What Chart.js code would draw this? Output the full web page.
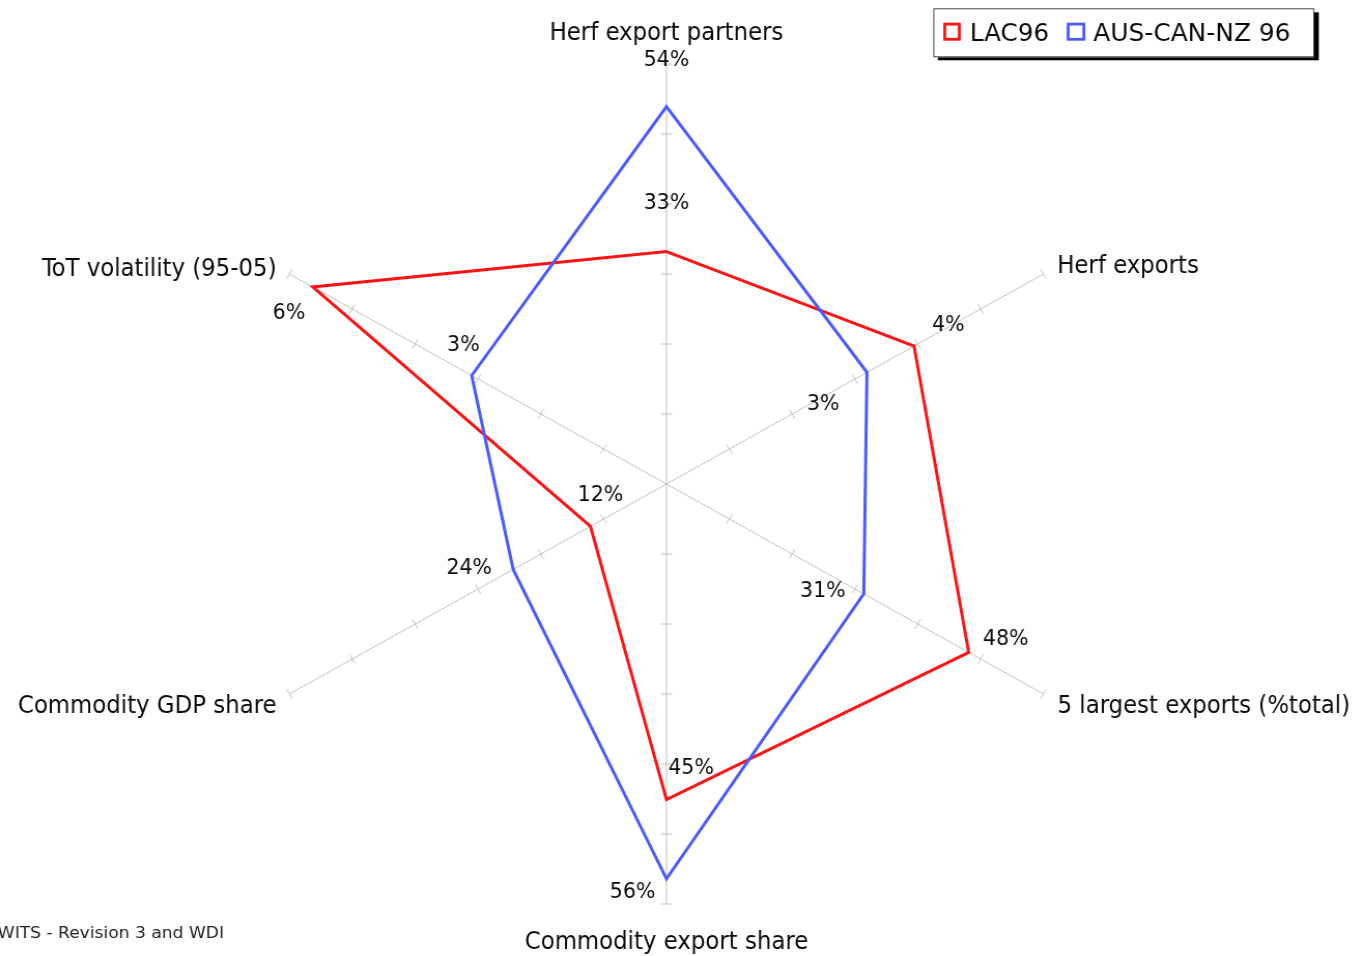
<!DOCTYPE html>
<html>
<head>
<meta charset="utf-8">
<script src="https://cdn.jsdelivr.net/npm/chart.js@4.4.1/dist/chart.umd.min.js"></script>
<style>
html,body{margin:0;padding:0;background:#fff;overflow:hidden;width:1363px;height:956px;}
#wrap{position:absolute;left:0;top:0;width:1315px;height:956px;transform:scaleX(1.0365);transform-origin:0 0;}
canvas{display:block;}
</style>
</head>
<body>
<div id="wrap"><canvas id="c" width="1315" height="956"></canvas></div>
<script>
// ---- data ----
const categories = ['Herf export partners', 'Herf exports', '5 largest exports (%total)', 'Commodity export share', 'Commodity GDP share', 'ToT volatility (95-05)'];
const seriesNames = ['LAC96', 'AUS-CAN-NZ 96'];
const lac96 = [33.2, 3.94, 48.1, 45.1, 12.1, 5.63];
const ausCanNz96 = [53.9, 3.19, 31.4, 56.4, 24.4, 3.1];
const axisMax = [60, 6, 60, 60, 60, 6];
const tickDivisions = 6;
const sourceNote = 'WITS - Revision 3 and WDI';

// ---- styling / layout ----
const SX = 1.0365;
const FONT = '"DejaVu Sans Condensed", "DejaVu Sans", Verdana, sans-serif';
const FONT_WIDE = '"DejaVu Sans", Verdana, sans-serif';
const colors = ['#ff1414', '#4b5bff'];
const axisLabelLayout = [
  {dx: 0, dy: -24.5, align: 'center', w: 236},
  {dx: 13.7, dy: -1.3, align: 'left', w: 143},
  {dx: 14, dy: 18.5, align: 'left', w: 299},
  {dx: 0, dy: 44.5, align: 'center', w: 287},
  {dx: -13, dy: 18.5, align: 'right', w: 262},
  {dx: -13, dy: 2, align: 'right', w: 242}
];
const valueLabelOffsets = [
  [[0, -51], [34.2, -22.7], [37, -15], [24.6, -34.2], [10, -33], [-23.8, 24.4]],
  [[0, -49], [-43.8, 29.3], [-41, -5], [-33.9, 11], [-44, -3], [-8.3, -32.7]]
];

const norm = arr => arr.map((v, i) => v / axisMax[i]);
const rawSeries = [lac96, ausCanNz96];

const decorPlugin = {
  id: 'decor',
  beforeDatasetsDraw(chart) {
    const r = chart.scales.r;
    const ctx = chart.ctx;
    ctx.save();
    ctx.strokeStyle = '#c2c2c2';
    ctx.lineWidth = 1;
    for (let i = 0; i < categories.length; i++) {
      const a = r.getIndexAngle(i) - Math.PI / 2;
      const px = Math.cos(a + Math.PI / 2), py = Math.sin(a + Math.PI / 2);
      for (let k = 1; k <= tickDivisions; k++) {
        const p = r.getPointPosition(i, r.getDistanceFromCenterForValue(k / tickDivisions));
        ctx.beginPath();
        ctx.moveTo(p.x - px * 5.3, p.y - py * 5.3);
        ctx.lineTo(p.x + px * 5.3, p.y + py * 5.3);
        ctx.stroke();
      }
    }
    ctx.restore();
  },
  afterDraw(chart) {
    const r = chart.scales.r;
    const ctx = chart.ctx;
    ctx.save();
    ctx.textBaseline = 'alphabetic';
    // axis labels
    ctx.fillStyle = '#0a0a0a';
    ctx.font = '24.5px ' + FONT;
    categories.forEach((c, i) => {
      const p = r.getPointPosition(i, r.getDistanceFromCenterForValue(1));
      const L = axisLabelLayout[i];
      ctx.textAlign = L.align;
      ctx.fillText(c, p.x + L.dx / SX, p.y + L.dy, L.w / SX);
    });
    // value labels
    ctx.font = '22px ' + FONT;
    ctx.textAlign = 'center';
    rawSeries.forEach((ser, d) => {
      const meta = chart.getDatasetMeta(d);
      ser.forEach((v, i) => {
        const el = meta.data[i];
        const o = valueLabelOffsets[d][i];
        ctx.fillText(Math.round(v) + '%', el.x + o[0] / SX, el.y + o[1] + 8, 46 / SX);
      });
    });
    // legend
    const bx = 933.3 / SX, by = 8.3, bw = (1314.3 - 933.3) / SX, bh = 49;
    ctx.fillStyle = '#000';
    ctx.fillRect(bx + 4.5 / SX, by + 4, bw, bh - 1);
    ctx.fillStyle = '#fff';
    ctx.fillRect(bx, by, bw, bh);
    ctx.strokeStyle = '#444';
    ctx.lineWidth = 1;
    ctx.strokeRect(bx + 0.5, by + 0.5, bw - 1, bh - 1);
    ctx.lineWidth = 2.8;
    ctx.strokeStyle = colors[0];
    ctx.strokeRect(943.3 / SX + 1.4, 24.1, 17.4 / SX - 2.8, 15.2);
    ctx.strokeStyle = colors[1];
    ctx.strokeRect(1066.7 / SX + 1.4, 24.1, 18.6 / SX - 2.8, 15.2);
    ctx.fillStyle = '#0a0a0a';
    ctx.font = '24px ' + FONT_WIDE;
    ctx.textAlign = 'left';
    ctx.fillText(seriesNames[0], 970 / SX, 40.7, 79 / SX);
    ctx.fillText(seriesNames[1], 1093.3 / SX, 40.7, 214 / SX);
    // source
    ctx.font = '16.5px ' + FONT_WIDE;
    ctx.textAlign = 'right';
    ctx.fillStyle = '#222';
    ctx.fillText(sourceNote, 224 / SX, 938.3);
    ctx.restore();
  }
};

new Chart(document.getElementById('c'), {
  type: 'radar',
  data: {
    labels: categories,
    datasets: [
      {label: seriesNames[0], data: norm(lac96), borderColor: colors[0], backgroundColor: 'transparent', borderWidth: 3, pointRadius: 0, pointHoverRadius: 0, fill: false, tension: 0, order: 1, borderJoinStyle: 'miter'},
      {label: seriesNames[1], data: norm(ausCanNz96), borderColor: colors[1], backgroundColor: 'transparent', borderWidth: 3, pointRadius: 0, pointHoverRadius: 0, fill: false, tension: 0, order: 0, borderJoinStyle: 'miter'}
    ]
  },
  options: {
    responsive: false,
    devicePixelRatio: 1,
    animation: false,
    layout: {padding: {top: 64, bottom: 51, left: 0, right: 29}},
    plugins: {legend: {display: false}, tooltip: {enabled: false}, title: {display: false}},
    scales: {
      r: {
        min: 0, max: 1,
        startAngle: 0,
        ticks: {display: false},
        grid: {display: false},
        angleLines: {display: true, color: '#c2c2c2', lineWidth: 1},
        pointLabels: {display: false}
      }
    }
  },
  plugins: [decorPlugin]
});
</script>
</body>
</html>
